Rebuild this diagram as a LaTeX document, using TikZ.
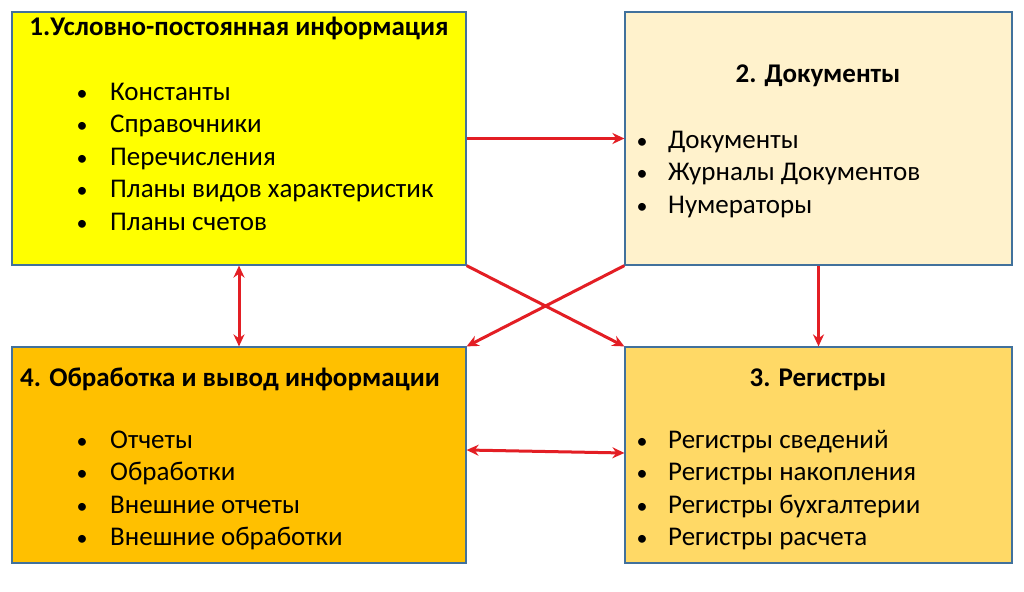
\documentclass[tikz,border=0pt]{standalone}
\usepackage{fontspec}
\setmainfont{Carlito}
\usetikzlibrary{arrows.meta}
\definecolor{bd}{HTML}{41719C}
\definecolor{c1}{HTML}{FFFF00}
\definecolor{c2}{HTML}{FFF2CC}
\definecolor{c3}{HTML}{FFD966}
\definecolor{c4}{HTML}{FFC000}
\definecolor{ar}{HTML}{E31E24}
\begin{document}
\begin{tikzpicture}[x=1pt,y=-1pt,
  box/.style={draw=bd,line width=1.2pt,inner sep=0pt},
  ttl/.style={font=\fontsize{27}{30}\selectfont\bfseries,anchor=base,inner sep=0pt},
  itm/.style={font=\fontsize{27}{30}\selectfont,anchor=base west,inner sep=0pt},
  bul/.style={font=\fontsize{22}{24}\selectfont,anchor=base,inner sep=0pt},
  arr/.style={draw=ar,line width=3pt,-{Stealth[length=12pt,width=11pt]}},
  arr2/.style={draw=ar,line width=3pt,{Stealth[length=12pt,width=11pt]}-{Stealth[length=12pt,width=11pt]}}]
\useasboundingbox (0,0) rectangle (1024,591);
\fill[white] (0,0) rectangle (1024,591);
\node[box,fill=c1,minimum width=454pt,minimum height=253pt] (b1) at (239,138.5) {};
\node[box,fill=c2,minimum width=387pt,minimum height=253pt] (b2) at (818.5,138.5) {};
\node[box,fill=c4,minimum width=454pt,minimum height=216pt] (b4) at (239,455) {};
\node[box,fill=c3,minimum width=387pt,minimum height=216pt] (b3) at (818.5,455) {};
\node[ttl] (t1) at (239,36) {1.Условно-постоянная информация};
\node[ttl] (t2) at (818,83) {2. Документы};
\node[ttl] (t3) at (818,386) {3. Регистры};
\node[ttl] (t4) at (230,386) {4. Обработка и вывод информации};
\foreach \t [count=\i] in {Константы,Справочники,Перечисления,Планы видов характеристик,Планы счетов}{
  \node[bul] (p1\i) at (82,{92+32.5*(\i-1)+8}) {•};
  \node[itm] (a1\i) at (110,{92+32.5*(\i-1)+8}) {\t};}
\foreach \t [count=\i] in {Документы,Журналы Документов,Нумераторы}{
  \node[bul] (p2\i) at (642,{140+32.5*(\i-1)+8}) {•};
  \node[itm] (a2\i) at (668,{140+32.5*(\i-1)+8}) {\t};}
\foreach \t [count=\i] in {Регистры сведений,Регистры накопления,Регистры бухгалтерии,Регистры расчета}{
  \node[bul] (p3\i) at (642,{440+32.5*(\i-1)+8}) {•};
  \node[itm] (a3\i) at (668,{440+32.5*(\i-1)+8}) {\t};}
\foreach \t [count=\i] in {Отчеты,Обработки,Внешние отчеты,Внешние обработки}{
  \node[bul] (p4\i) at (82,{440+32.5*(\i-1)+8}) {•};
  \node[itm] (a4\i) at (110,{440+32.5*(\i-1)+8}) {\t};}
\draw[arr] (b1.east) -- (b2.west);
\draw[arr] (b1.south east) -- (b3.north west);
\draw[arr] (b2.south west) -- (b4.north east);
\draw[arr] (b2.south) -- (b3.north);
\draw[arr2] (b1.south) -- (b4.north);
\draw[arr2] ([yshift=5pt]b4.east) -- ([yshift=2pt]b3.west);
\end{tikzpicture}
\end{document}
